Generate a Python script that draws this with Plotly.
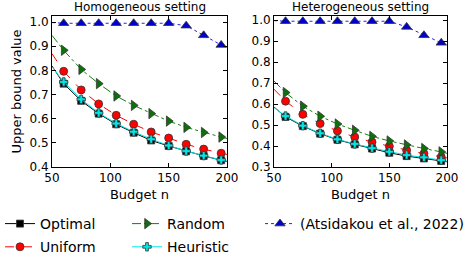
import plotly.graph_objects as go

budgets = [60, 75, 90, 105, 120, 135, 150, 165, 180, 195]
budget_ends = [50, 200]

series_names = ["Optimal", "Uniform", "Random", "Heuristic", "(Atsidakou et al., 2022)"]

hom_opt = [0.745, 0.674, 0.621, 0.577, 0.542, 0.510, 0.487, 0.465, 0.446, 0.428]
hom_uni = [0.796, 0.719, 0.661, 0.614, 0.577, 0.545, 0.520, 0.494, 0.474, 0.457]
hom_rand = [0.883, 0.804, 0.745, 0.694, 0.655, 0.621, 0.590, 0.564, 0.543, 0.524]
hom_heur = [0.752, 0.680, 0.624, 0.580, 0.546, 0.515, 0.489, 0.466, 0.447, 0.429]
hom_ats = [0.995, 0.995, 0.995, 0.995, 0.995, 0.995, 0.995, 0.985, 0.945, 0.905]
hom_ends = {
    "Optimal": [0.818, 0.423],
    "Uniform": [0.869, 0.452],
    "Random": [0.945, 0.518],
    "Heuristic": [0.815, 0.424],
    "(Atsidakou et al., 2022)": [0.998, 0.895],
}

het_opt = [0.539, 0.495, 0.459, 0.430, 0.408, 0.388, 0.368, 0.352, 0.341, 0.329]
het_uni = [0.614, 0.551, 0.507, 0.472, 0.443, 0.419, 0.399, 0.380, 0.364, 0.348]
het_rand = [0.655, 0.590, 0.542, 0.505, 0.475, 0.446, 0.424, 0.405, 0.388, 0.372]
het_heur = [0.543, 0.497, 0.461, 0.432, 0.410, 0.390, 0.373, 0.357, 0.346, 0.333]
het_ats = [0.995, 0.995, 0.995, 0.995, 0.995, 0.995, 0.995, 0.968, 0.928, 0.892]
het_ends = {
    "Optimal": [0.586, 0.325],
    "Uniform": [0.671, 0.343],
    "Random": [0.710, 0.365],
    "Heuristic": [0.583, 0.328],
    "(Atsidakou et al., 2022)": [0.998, 0.880],
}

x_ticks = [50, 100, 150, 200]
hom_yticks = [0.4, 0.5, 0.6, 0.7, 0.8, 0.9, 1.0]
het_yticks = [0.3, 0.4, 0.5, 0.6, 0.7, 0.8, 0.9, 1.0]

styles = {
    "Optimal": dict(color="black", dash="solid", symbol="square", mcolor="black", size=7, legend="legend"),
    "Uniform": dict(color="red", dash="dash", symbol="circle", mcolor="red", size=8, legend="legend"),
    "Random": dict(color="#118011", dash="dashdot", symbol="triangle-right", mcolor="#0d700d", size=9, legend="legend2"),
    "Heuristic": dict(color="#00e5e5", dash="solid", symbol="cross", mcolor="#00e5e5", size=7, legend="legend2"),
    "(Atsidakou et al., 2022)": dict(color="#2222ee", dash="dot", symbol="triangle-up", mcolor="#0000cc", size=9, legend="legend3"),
}

FONT = "DejaVu Sans, sans-serif"
fig = go.Figure()

panels = [
    ("x", "y", dict(zip(series_names, [hom_opt, hom_uni, hom_rand, hom_heur, hom_ats])), hom_ends, True),
    ("x2", "y2", dict(zip(series_names, [het_opt, het_uni, het_rand, het_heur, het_ats])), het_ends, False),
]

for xa, ya, data, ends, show in panels:
    for name in series_names:
        st = styles[name]
        vals = data[name]
        fig.add_trace(go.Scatter(
            x=[budget_ends[0], budgets[0], None, budgets[-1], budget_ends[1]],
            y=[ends[name][0], vals[0], None, vals[-1], ends[name][1]],
            mode="lines", line=dict(color=st["color"], dash=st["dash"], width=1),
            xaxis=xa, yaxis=ya, showlegend=False, hoverinfo="skip", legendgroup=name,
        ))
        fig.add_trace(go.Scatter(
            x=budgets, y=vals, name=name, mode="lines+markers",
            line=dict(color=st["color"], dash=st["dash"], width=1),
            marker=dict(symbol=st["symbol"], size=st["size"], color=st["mcolor"],
                        line=dict(color="#333333", width=0.8)),
            xaxis=xa, yaxis=ya, showlegend=show, legend=st["legend"], legendgroup=name,
        ))

W, H = 471, 258
def px_x(p):
    return p / W
def px_y(p):
    return 1 - p / H

axis_common = dict(
    showline=True, mirror="ticks", linecolor="black", linewidth=1,
    ticks="inside", ticklen=4, tickcolor="black", tickwidth=1,
    showgrid=False, zeroline=False, automargin=False,
    tickfont=dict(family=FONT, size=12, color="black"),
)

legend_common = dict(xanchor="left", yanchor="top", orientation="v", font=dict(size=14),
                     bgcolor="rgba(0,0,0,0)", traceorder="grouped", tracegroupgap=2, itemwidth=30)

fig.update_layout(
    template="none",
    width=W, height=H,
    margin=dict(l=0, r=0, t=0, b=0, autoexpand=False),
    paper_bgcolor="white", plot_bgcolor="white",
    font=dict(family=FONT, size=12, color="black"),
    xaxis=dict(domain=[px_x(52), px_x(227)], range=[50, 200], tickvals=x_ticks,
               title=dict(text="Budget n", font=dict(size=13), standoff=5), anchor="y", **axis_common),
    yaxis=dict(domain=[px_y(167), px_y(16)], range=[0.4, 1.025], tickvals=hom_yticks,
               tickformat=".1f",
               title=dict(text="Upper bound value", font=dict(size=13), standoff=4), anchor="x", **axis_common),
    xaxis2=dict(domain=[px_x(274), px_x(447)], range=[50, 200], tickvals=x_ticks,
                title=dict(text="Budget n", font=dict(size=13), standoff=5), anchor="y2", **axis_common),
    yaxis2=dict(domain=[px_y(167), px_y(16)], range=[0.3, 1.02], tickvals=het_yticks,
                tickformat=".1f", anchor="x2", **axis_common),
    annotations=[
        dict(text="Homogeneous setting", x=(px_x(52) + px_x(227)) / 2, y=px_y(7), xref="paper", yref="paper",
             showarrow=False, font=dict(size=12), xanchor="center", yanchor="middle"),
        dict(text="Heterogeneous setting", x=(px_x(274) + px_x(447)) / 2, y=px_y(7), xref="paper", yref="paper",
             showarrow=False, font=dict(size=12), xanchor="center", yanchor="middle"),
    ],
    legend=dict(x=0, y=px_y(208), **legend_common),
    legend2=dict(x=px_x(127), y=px_y(208), **legend_common),
    legend3=dict(x=px_x(260), y=px_y(208), **legend_common),
)

fig.write_html("out.html", config={"displayModeBar": False},
               post_script="document.body.style.margin='0px';document.body.style.overflow='hidden';")
